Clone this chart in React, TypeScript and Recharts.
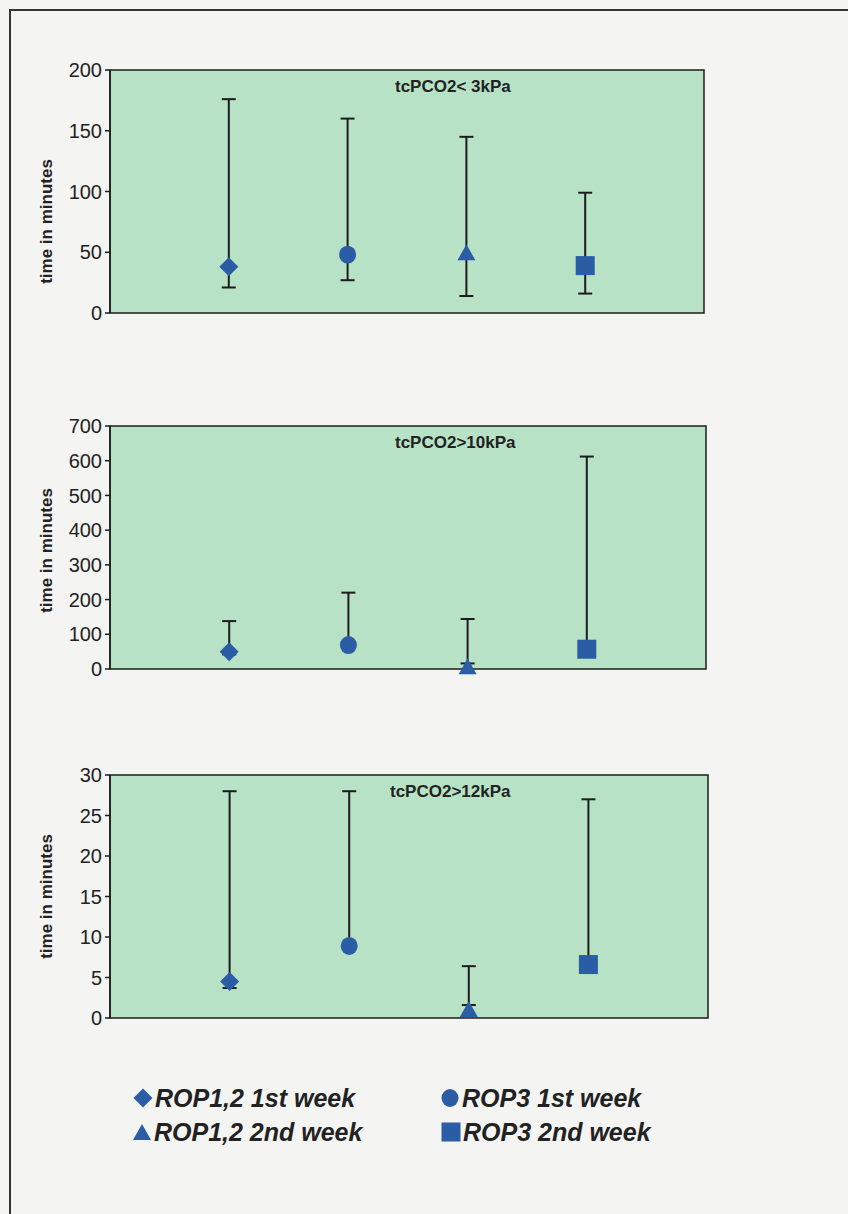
import React from "react";
import {
  ScatterChart,
  Scatter,
  XAxis,
  YAxis,
  ErrorBar,
  ReferenceArea,
} from "recharts";

// groups shown in every panel, placed at x = 1..4
const groups = ["ROP1,2 1st week", "ROP3 1st week", "ROP1,2 2nd week", "ROP3 2nd week"];
const groupX = [1, 2, 3, 4];

// tcPCO2 < 3 kPa
const mean3 = [38, 48, 50, 39];
const low3 = [21, 27, 14, 16];
const high3 = [176, 160, 145, 99];
const ticks3 = [0, 50, 100, 150, 200];

// tcPCO2 > 10 kPa
const mean10 = [50, 69, 8, 57];
const low10 = [42, 60, 16, 50];
const high10 = [138, 220, 144, 612];
const ticks10 = [0, 100, 200, 300, 400, 500, 600, 700];

// tcPCO2 > 12 kPa
const mean12 = [4.5, 8.9, 1.1, 6.6];
const low12 = [3.7, 8.5, 1.6, 6];
const high12 = [28, 28, 6.4, 27];
const ticks12 = [0, 5, 10, 15, 20, 25, 30];

const BLUE = "#2b5ca6";
const GREEN = "#b7e2c6";
const INK = "#1c1c1c";
const FONT = "Arial, 'Liberation Sans', sans-serif";

type ShapeProps = { cx?: number; cy?: number };

const Diamond = ({ cx = 0, cy = 0 }: ShapeProps) => (
  <polygon
    points={`${cx},${cy - 9.5} ${cx + 9.5},${cy} ${cx},${cy + 9.5} ${cx - 9.5},${cy}`}
    fill={BLUE}
  />
);
const Dot = ({ cx = 0, cy = 0 }: ShapeProps) => (
  <ellipse cx={cx} cy={cy} rx={8.5} ry={9} fill={BLUE} />
);
const Triangle = ({ cx = 0, cy = 0 }: ShapeProps) => (
  <polygon
    points={`${cx},${cy - 8} ${cx + 9},${cy + 8} ${cx - 9},${cy + 8}`}
    fill={BLUE}
  />
);
const Square = ({ cx = 0, cy = 0 }: ShapeProps) => (
  <rect x={cx - 9.5} y={cy - 9.5} width={19} height={19} fill={BLUE} />
);

const shapes = [Diamond, Dot, Triangle, Square];

// rotated axis title, drawn from the axis viewBox
const axisTitle = (shift: number) => (props: any) => {
  const vb = props.viewBox || {};
  const x = 46;
  const y = (vb.y ?? 0) + (vb.height ?? 0) / 2 + shift;
  return (
    <text
      x={x}
      y={y}
      transform={`rotate(-90, ${x}, ${y})`}
      textAnchor="middle"
      dominantBaseline="central"
      fontFamily={FONT}
      fontWeight="bold"
      fontSize={17}
      fill="#222"
    >
      time in minutes
    </text>
  );
};

type PanelProps = {
  title: string;
  titleLeft: number;
  top: number;
  plotRight: number;
  labelShift: number;
  mean: number[];
  low: number[];
  high: number[];
  ticks: number[];
};

function Panel({ title, titleLeft, top, plotRight, labelShift, mean, low, high, ticks }: PanelProps) {
  const yMax = ticks[ticks.length - 1];
  return (
    <div style={{ position: "absolute", left: 0, top: top - 20 }}>
      <ScatterChart
        width={plotRight + 10}
        height={243 + 30}
        margin={{ top: 20, right: 10, bottom: 10, left: 0 }}
      >
        <XAxis type="number" dataKey="x" domain={[0, 5]} hide />
        <YAxis
          type="number"
          dataKey="y"
          domain={[0, yMax]}
          ticks={ticks}
          width={110}
          interval={0}
          tickSize={5}
          tickMargin={3}
          axisLine={{ stroke: INK, strokeWidth: 1.5 }}
          tickLine={{ stroke: INK, strokeWidth: 1.5 }}
          tick={{ fill: "#222", fontSize: 20, fontFamily: FONT }}
          label={axisTitle(labelShift)}
        />
        <ReferenceArea
          x1={0}
          x2={5}
          y1={0}
          y2={yMax}
          fill={GREEN}
          fillOpacity={1}
          stroke={INK}
          strokeWidth={1.5}
        />
        {groups.map((name, i) => (
          <Scatter
            key={name}
            name={name}
            data={[{ x: groupX[i], y: mean[i], err: [mean[i] - low[i], high[i] - mean[i]] }]}
            shape={shapes[i]}
            isAnimationActive={false}
          >
            <ErrorBar
              dataKey="err"
              direction="y"
              width={7}
              stroke={INK}
              strokeWidth={2}
              isAnimationActive={false}
            />
          </Scatter>
        ))}
      </ScatterChart>
      <div
        style={{
          position: "absolute",
          left: titleLeft,
          top: 27,
          fontFamily: FONT,
          fontWeight: "bold",
          fontSize: 17,
          color: "#222",
          whiteSpace: "nowrap",
        }}
      >
        {title}
      </div>
    </div>
  );
}

const legendIcon = (i: number) => {
  const s = 18;
  const c = s / 2;
  const Shape = shapes[i];
  return (
    <svg width={s + 2} height={s + 2} style={{ marginRight: 2, flex: "none" }}>
      <g transform="translate(1,1)">
        <Shape cx={c} cy={c} />
      </g>
    </svg>
  );
};

function Legend() {
  const item = (i: number, left: number, top: number) => (
    <div
      key={i}
      style={{
        position: "absolute",
        left,
        top,
        height: 30,
        display: "flex",
        alignItems: "center",
        fontFamily: FONT,
        fontWeight: "bold",
        fontStyle: "italic",
        fontSize: 25,
        color: "#222",
        whiteSpace: "nowrap",
      }}
    >
      {legendIcon(i)}
      {groups[i]}
    </div>
  );
  return (
    <>
      {item(0, 133, 1083)}
      {item(1, 440, 1083)}
      {item(2, 132, 1117)}
      {item(3, 441, 1117)}
    </>
  );
}

export default function App() {
  return (
    <div
      style={{
        position: "absolute",
        left: 0,
        top: 0,
        width: 848,
        height: 1214,
        overflow: "hidden",
        background: "#f4f4f2",
      }}
    >
      <div
        style={{
          position: "absolute",
          left: 9,
          top: 9,
          width: 900,
          height: 1300,
          border: "2px solid #333",
        }}
      />
      <Panel title="tcPCO2< 3kPa" titleLeft={395} top={70} plotRight={704} labelShift={30} mean={mean3} low={low3} high={high3} ticks={ticks3} />
      <Panel title="tcPCO2>10kPa" titleLeft={395} top={426} plotRight={706} labelShift={3} mean={mean10} low={low10} high={high10} ticks={ticks10} />
      <Panel title="tcPCO2>12kPa" titleLeft={390} top={775} plotRight={708} labelShift={0} mean={mean12} low={low12} high={high12} ticks={ticks12} />
      <Legend />
    </div>
  );
}
